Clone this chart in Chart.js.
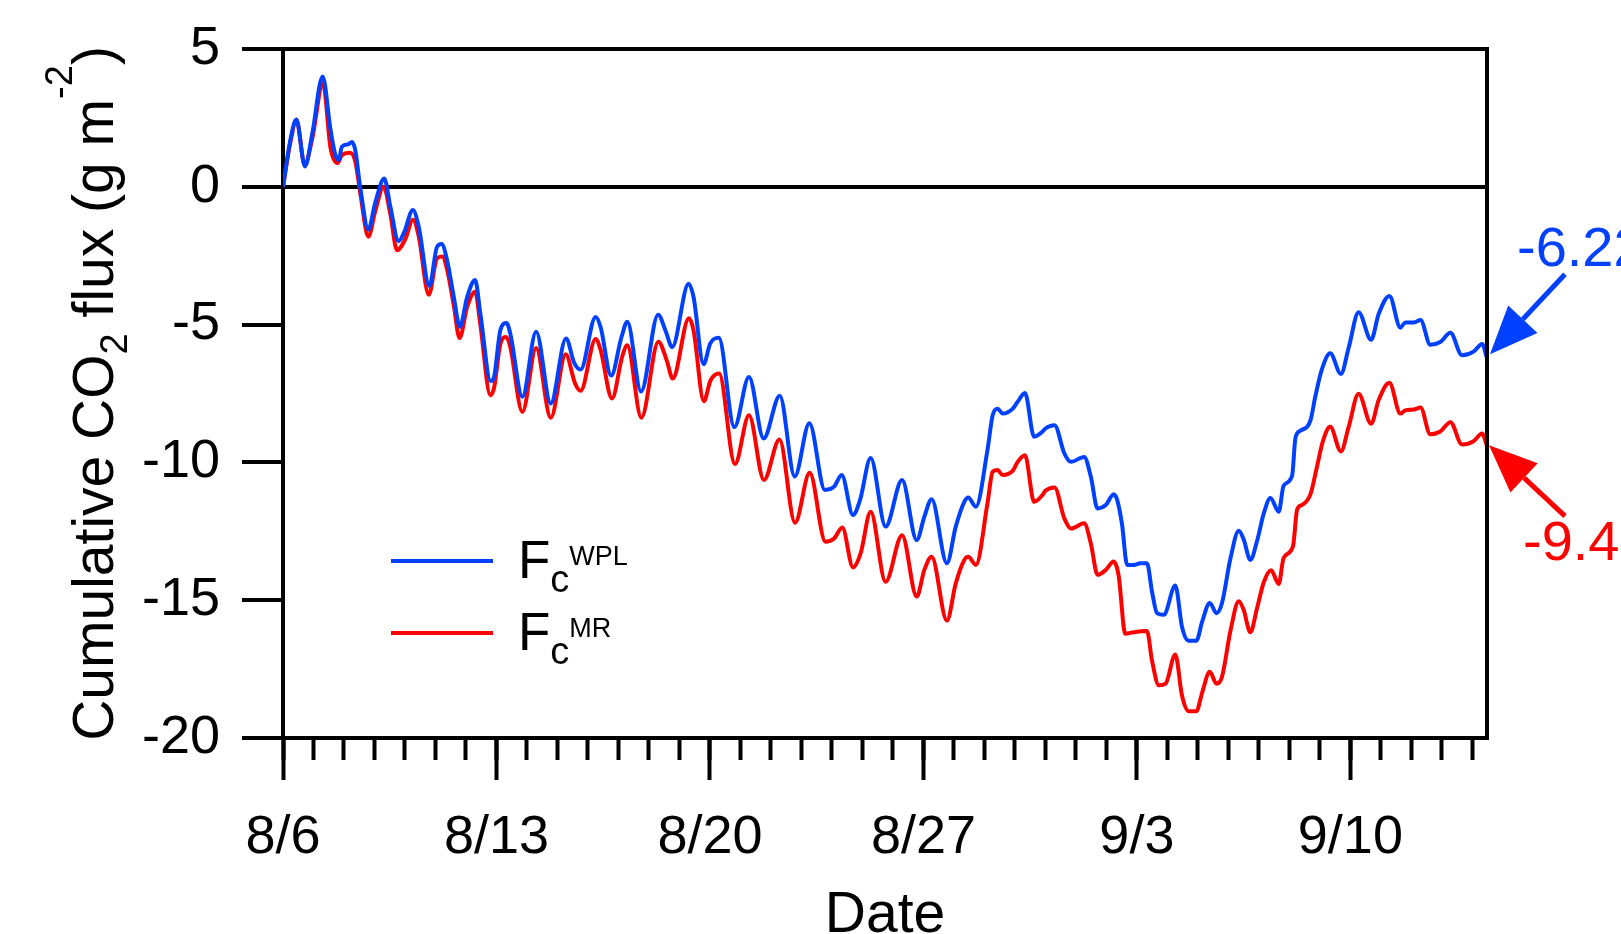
<!DOCTYPE html>
<html>
<head>
<meta charset="utf-8">
<script src="https://cdn.jsdelivr.net/npm/chart.js@4.4.1/dist/chart.umd.min.js"></script>
<style>
  html, body { margin: 0; padding: 0; background: #fff; }
  canvas { display: block; }
</style>
</head>
<body>
<canvas id="grafico" width="1621" height="934"></canvas>
<script>
// days since 8/6 and cumulative flux (g m-2)
const wplDays = [0,0.24,0.44,0.72,0.96,1.3,1.56,1.72,1.83,1.93,
  2.15,2.26,2.37,2.53,2.8,3.02,3.32,3.52,3.79,3.97,
  4.26,4.45,4.8,5.05,5.2,5.38,5.6,5.8,6.04,6.3,
  6.47,6.81,6.92,7.13,7.33,7.45,7.85,8.3,8.78,9.28,
  9.55,9.76,10.25,10.41,10.76,11.1,11.29,11.74,12.3,12.55,
  12.76,13.3,13.46,13.79,14.01,14.29,14.8,15.28,15.76,16.29,
  16.78,17.26,17.77,18.07,18.32,18.69,18.92,19.27,19.76,20.3,
  20.78,21.03,21.27,21.77,22.06,22.34,22.47,22.72,23.1,23.27,
  23.43,23.6,23.93,24.09,24.33,24.63,24.9,25.0,25.3,25.62,
  25.84,26.27,26.49,26.71,26.98,27.24,27.35,27.51,27.68,27.9,
  28.11,28.33,28.5,28.66,28.88,29.26,29.48,29.7,29.95,30.14,
  30.39,30.61,30.79,31.07,31.34,31.5,31.72,31.94,32.16,32.38,
  32.65,32.81,33.09,33.2,33.36,33.69,33.85,34.07,34.34,34.69,
  34.94,35.27,35.68,35.93,36.28,36.64,36.8,37.08,37.3,37.62,
  37.95,38.28,38.66,39.04,39.32,39.48];
const wplValues = [0,1.69,2.44,0.74,1.93,4.0,2.06,1.15,0.98,1.45,
  1.55,1.63,1.33,0,-1.55,-0.6,0.3,-0.72,-1.97,-1.66,
  -0.84,-1.45,-3.6,-2.18,-2.08,-2.66,-3.99,-5.08,-3.99,-3.38,
  -4.59,-7.05,-6.9,-5.19,-4.94,-5.31,-7.62,-5.26,-7.86,-5.5,
  -6.39,-6.63,-4.72,-5.07,-6.85,-5.45,-4.9,-7.43,-4.64,-5.24,
  -5.82,-3.52,-3.99,-6.44,-5.68,-5.48,-8.72,-6.9,-9.13,-7.58,
  -10.51,-8.58,-11.0,-10.88,-10.46,-11.91,-11.37,-9.84,-12.33,-10.64,
  -12.82,-11.97,-11.34,-13.66,-12.33,-11.43,-11.27,-11.61,-9.55,-8.29,
  -8.05,-8.23,-8.05,-7.8,-7.48,-9.07,-8.89,-8.77,-8.65,-9.67,
  -9.98,-9.8,-10.52,-11.67,-11.55,-11.16,-11.35,-12.23,-13.72,-13.72,
  -13.66,-13.66,-14.72,-15.47,-15.53,-14.47,-15.97,-16.47,-16.47,-15.78,
  -15.1,-15.47,-15.1,-13.47,-12.48,-12.79,-13.54,-12.85,-11.85,-11.29,
  -11.79,-10.85,-10.48,-9.1,-8.85,-8.48,-7.61,-6.61,-6.04,-6.79,
  -5.86,-4.55,-5.55,-4.61,-3.96,-5.11,-4.92,-4.92,-4.83,-5.73,
  -5.63,-5.3,-6.11,-5.98,-5.7,-6.22];

const mrDays = [0,0.24,0.44,0.71,0.96,1.31,1.56,1.79,1.93,2.2,
  2.37,2.53,2.8,3.02,3.3,3.52,3.74,4.01,4.26,4.45,
  4.78,5.05,5.22,5.38,5.6,5.79,6.04,6.3,6.47,6.8,
  6.92,7.13,7.32,7.45,7.85,8.3,8.78,9.27,9.58,9.76,
  10.25,10.41,10.79,11.12,11.29,11.75,12.31,12.58,12.78,13.31,
  13.46,13.8,14.02,14.3,14.82,15.28,15.77,16.28,16.79,17.27,
  17.79,18.07,18.34,18.69,18.94,19.27,19.76,20.3,20.78,21.03,
  21.27,21.77,22.06,22.34,22.47,22.72,23.1,23.27,23.43,23.6,
  23.93,24.09,24.33,24.63,24.9,25.0,25.3,25.62,25.84,26.27,
  26.49,26.71,26.98,27.24,27.4,27.62,27.9,28.33,28.5,28.72,
  28.94,29.26,29.48,29.7,29.95,30.14,30.39,30.61,30.79,31.07,
  31.34,31.5,31.72,31.94,32.16,32.4,32.65,32.81,33.12,33.25,
  33.42,33.69,33.89,34.1,34.34,34.69,34.94,35.27,35.68,35.93,
  36.28,36.64,36.8,37.08,37.3,37.62,37.95,38.28,38.66,39.04,
  39.32,39.48];
const mrValues = [0,1.6,2.43,0.8,1.75,3.76,1.4,0.86,1.15,1.24,
  0.92,-0.2,-1.81,-0.9,0,-1.0,-2.3,-1.9,-1.2,-1.8,
  -3.92,-2.6,-2.53,-3.0,-4.3,-5.49,-4.35,-3.81,-5.0,-7.56,
  -7.3,-5.69,-5.45,-5.8,-8.17,-5.85,-8.38,-6.08,-7.14,-7.4,
  -5.52,-5.9,-7.68,-6.17,-5.75,-8.38,-5.62,-6.29,-6.96,-4.77,
  -5.2,-7.78,-7.02,-6.77,-10.06,-8.29,-10.64,-9.17,-12.19,-10.38,
  -12.88,-12.76,-12.36,-13.81,-13.3,-11.79,-14.33,-12.64,-14.87,-13.9,
  -13.42,-15.74,-14.39,-13.54,-13.42,-13.72,-11.49,-10.34,-10.28,-10.46,
  -10.3,-9.98,-9.74,-11.43,-11.19,-11.03,-10.91,-12.03,-12.4,-12.21,
  -12.94,-14.08,-13.9,-13.6,-14.1,-16.22,-16.16,-16.12,-17.22,-18.09,
  -18.03,-16.97,-18.47,-19.03,-19.03,-18.35,-17.6,-18.03,-17.78,-16.1,
  -15.04,-15.35,-16.16,-15.29,-14.35,-13.91,-14.41,-13.47,-13.04,-11.73,
  -11.54,-11.16,-10.23,-9.23,-8.71,-9.6,-8.73,-7.51,-8.6,-7.73,
  -7.11,-8.23,-8.11,-8.08,-8.01,-8.98,-8.88,-8.54,-9.35,-9.23,
  -8.95,-9.41];

const majorTickDays = [0, 7, 14, 21, 28, 35];
const majorTickLabels = ["8/6", "8/13", "8/20", "8/27", "9/3", "9/10"];
const minorTickDays = Array.from({ length: 40 }, (_, i) => i);
const endLabels = ["-6.22", "-9.41"];
const xTitle = "Date";

const FUENTE = '"Liberation Sans", Arial, sans-serif';
const AZUL = "#0040ff";
const ROJO = "#ff0000";
const EJE = 4;
const xFin = wplDays[wplDays.length - 1];

const aPuntos = (dias, valores) => dias.map((d, i) => ({ x: d, y: valores[i] }));

// text with sub/superscripts: [texto, size, dy]
const anchoPartes = (ctx, partes) => {
  let w = 0;
  partes.forEach(([t, s]) => {
    ctx.font = s + "px " + FUENTE;
    w += ctx.measureText(t).width;
  });
  return w;
};

const dibujarPartes = (ctx, partes, x, y) => {
  let cx = x;
  partes.forEach(([t, s, dy]) => {
    ctx.font = s + "px " + FUENTE;
    ctx.fillText(t, cx, y + dy);
    cx += ctx.measureText(t).width;
  });
};

const dibujarFlecha = (ctx, x1, y1, x2, y2, color) => {
  const ang = Math.atan2(y2 - y1, x2 - x1);
  const largo = 48, medio = 20;
  const bx = x2 - largo * Math.cos(ang), by = y2 - largo * Math.sin(ang);
  ctx.strokeStyle = color;
  ctx.fillStyle = color;
  ctx.lineWidth = 5;
  ctx.beginPath();
  ctx.moveTo(x1, y1);
  ctx.lineTo(bx, by);
  ctx.stroke();
  ctx.beginPath();
  ctx.moveTo(x2, y2);
  ctx.lineTo(bx + medio * Math.sin(ang), by - medio * Math.cos(ang));
  ctx.lineTo(bx - medio * Math.sin(ang), by + medio * Math.cos(ang));
  ctx.closePath();
  ctx.fill();
};

const extras = {
  id: "extras",
  afterDraw(chart) {
    const { ctx, chartArea: a, scales } = chart;
    ctx.save();

    // right frame
    ctx.strokeStyle = "#000";
    ctx.lineWidth = EJE;
    ctx.beginPath();
    ctx.moveTo(a.right, a.top - EJE / 2);
    ctx.lineTo(a.right, a.bottom + EJE / 2);
    ctx.stroke();

    ctx.textAlign = "left";
    ctx.textBaseline = "alphabetic";
    ctx.fillStyle = "#000";

    // x title
    ctx.font = "57px " + FUENTE;
    ctx.textAlign = "center";
    ctx.fillText(xTitle, (a.left + a.right) / 2, 932);
    ctx.textAlign = "left";

    // y title
    const partesY = [
      ["Cumulative CO", 57, 0],
      ["2", 38, 14],
      [" flux (g m", 57, 0],
      ["-2", 38, -41],
      [")", 57, 0],
    ];
    ctx.save();
    ctx.translate(113, (a.top + a.bottom) / 2);
    ctx.rotate(-Math.PI / 2);
    dibujarPartes(ctx, partesY, -anchoPartes(ctx, partesY) / 2, 0);
    ctx.restore();

    // legend
    const leyenda = [
      [AZUL, "WPL", 561, 578],
      [ROJO, "MR", 633, 650],
    ];
    leyenda.forEach(([color, sup, yl, yb]) => {
      ctx.strokeStyle = color;
      ctx.lineWidth = 4;
      ctx.beginPath();
      ctx.moveTo(391, yl);
      ctx.lineTo(493, yl);
      ctx.stroke();
      ctx.fillStyle = "#000";
      dibujarPartes(ctx, [["F", 53, 0], ["c", 38, 14], [sup, 27, -13]], 518, yb);
    });

    // end values with arrows
    const xs = scales.x, ys = scales.y;
    const xe = xs.getPixelForValue(xFin);
    const yAzul = ys.getPixelForValue(wplValues[wplValues.length - 1]);
    const yRojo = ys.getPixelForValue(mrValues[mrValues.length - 1]);
    dibujarFlecha(ctx, xe + 78, yAzul - 84, xe + 3, yAzul - 4, AZUL);
    dibujarFlecha(ctx, xe + 78, yRojo + 70, xe + 2, yRojo - 1, ROJO);
    ctx.font = "56px " + FUENTE;
    ctx.fillStyle = AZUL;
    ctx.fillText(endLabels[0], xe + 30, yAzul - 92);
    ctx.fillStyle = ROJO;
    ctx.fillText(endLabels[1], xe + 36, yRojo + 114);

    ctx.restore();
  },
};

const sinRelleno = (s) => {
  s.paddingTop = 0;
  s.paddingBottom = 0;
  s.paddingLeft = 0;
  s.paddingRight = 0;
};

const config = {
  type: "line",
  data: {
    datasets: [
      {
        label: "Fc WPL",
        data: aPuntos(wplDays, wplValues),
        borderColor: AZUL,
        borderWidth: 4,
        pointRadius: 0,
        cubicInterpolationMode: "monotone",
      },
      {
        label: "Fc MR",
        data: aPuntos(mrDays, mrValues),
        borderColor: ROJO,
        borderWidth: 4,
        pointRadius: 0,
        cubicInterpolationMode: "monotone",
      },
    ],
  },
  options: {
    responsive: false,
    animation: false,
    devicePixelRatio: 1,
    layout: { padding: { top: 49, right: 134, left: 0, bottom: 0 } },
    plugins: { legend: { display: false }, tooltip: { enabled: false } },
    scales: {
      x: {
        type: "linear",
        position: "bottom",
        weight: 0,
        min: 0,
        max: xFin,
        afterBuildTicks: (s) => { s.ticks = minorTickDays.map((v) => ({ value: v })); },
        afterFit: (s) => { s.height = 0; sinRelleno(s); },
        ticks: { display: false },
        grid: { drawOnChartArea: false, tickLength: 22, tickWidth: EJE, tickColor: "#000" },
        border: { display: true, color: "#000", width: EJE },
      },
      xMayor: {
        type: "linear",
        position: "bottom",
        weight: 1,
        min: 0,
        max: xFin,
        afterBuildTicks: (s) => { s.ticks = majorTickDays.map((v) => ({ value: v })); },
        afterFit: (s) => { s.height = 196; sinRelleno(s); },
        ticks: {
          autoSkip: false,
          maxRotation: 0,
          padding: 26,
          color: "#000",
          font: { family: FUENTE, size: 54 },
          callback: (v) => majorTickLabels[majorTickDays.indexOf(v)],
        },
        grid: { drawOnChartArea: false, tickLength: 42, tickWidth: EJE, tickColor: "#000" },
        border: { display: false },
      },
      y: {
        min: -20,
        max: 5,
        afterFit: (s) => { s.width = 283; sinRelleno(s); },
        ticks: {
          stepSize: 5,
          padding: 22,
          color: "#000",
          font: { family: FUENTE, size: 54, lineHeight: 1 },
        },
        grid: {
          drawOnChartArea: true,
          tickLength: 41,
          tickWidth: EJE,
          tickColor: "#000",
          lineWidth: EJE,
          color: (c) => (c.tick && (c.tick.value === 0 || c.tick.value === 5) ? "#000" : "rgba(0,0,0,0)"),
        },
        border: { display: true, color: "#000", width: EJE },
      },
    },
  },
  plugins: [extras],
};

new Chart(document.getElementById("grafico"), config);
</script>
</body>
</html>
